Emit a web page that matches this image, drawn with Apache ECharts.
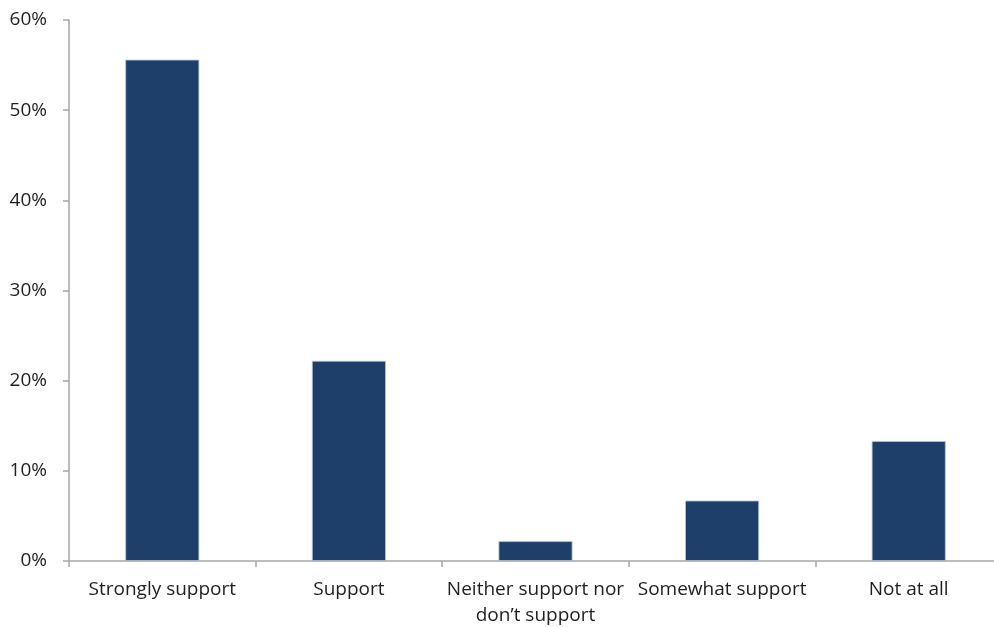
<!DOCTYPE html>
<html><head><meta charset="utf-8">
<script src="https://cdn.jsdelivr.net/npm/echarts@6/dist/echarts.min.js"></script>
<style>html,body{margin:0;padding:0;background:#fff}#c{width:994px;height:627px}</style>
</head><body><div id="c"></div>
<script>
const categories = ["Strongly support", "Support", "Neither support nor\ndon\u2019t support", "Somewhat support", "Not at all"];
const values = [55.6, 22.2, 2.2, 6.7, 13.3];
const yTicks = [0, 10, 20, 30, 40, 50, 60];

const chart = echarts.init(document.getElementById('c'), null, {renderer: 'canvas'});
chart.setOption({
  animation: false,
  backgroundColor: '#ffffff',
  grid: {left: 69, top: 20, width: 933, height: 541, containLabel: false, outerBoundsMode: 'none'},
  xAxis: {
    type: 'category',
    data: categories,
    axisLine: {lineStyle: {color: '#a6a6a6', width: 1.5}},
    axisTick: {show: true, length: 6, lineStyle: {color: '#a6a6a6', width: 1.5}},
    axisLabel: {color: '#1f1f1f', fontSize: 19, fontFamily: 'Open Sans', lineHeight: 26, margin: 16, interval: 0}
  },
  yAxis: {
    type: 'value',
    min: yTicks[0], max: yTicks[yTicks.length - 1], interval: 10,
    splitLine: {show: false},
    axisLine: {show: true, lineStyle: {color: '#a6a6a6', width: 1.5}},
    axisTick: {show: true, length: 6, lineStyle: {color: '#a6a6a6', width: 1.5}},
    axisLabel: {color: '#1f1f1f', fontSize: 19, fontFamily: 'Open Sans', margin: 22, formatter: v => v + '%'}
  },
  series: [{
    type: 'bar',
    data: values,
    barWidth: 74,
    itemStyle: {color: '#1f3f6b', borderColor: '#b8c4d4', borderWidth: 0.8}
  }]
});
</script></body></html>
